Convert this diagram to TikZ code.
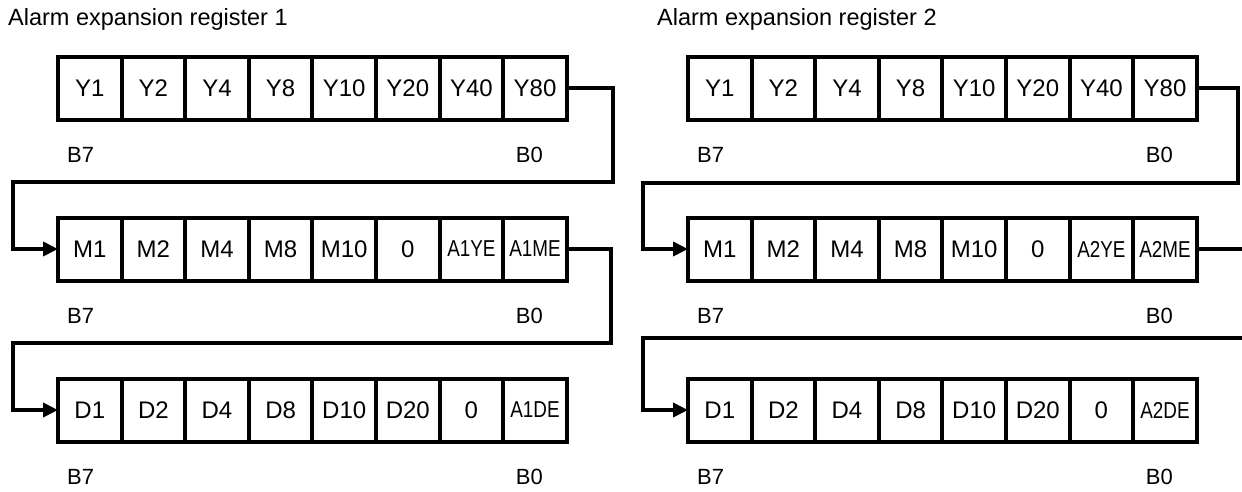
\documentclass[tikz,border=0pt]{standalone}
\usepackage{fontspec}
\setmainfont{Liberation Sans}
\newfontfamily\slimfont[FakeStretch=0.82]{Liberation Sans}
\usetikzlibrary{arrows.meta}
\usetikzlibrary{calc}

\newcommand{\slimtext}{\slimfont\fontsize{23}{23}\selectfont}

\tikzset{
  bitcell/.style={draw, line width=4pt, minimum width=63.6pt, minimum height=63pt,
    inner sep=0pt, outer sep=0pt, font=\fontsize{24}{24}\selectfont},
  bitlabel/.style={inner sep=0pt, font=\fontsize{22}{22}\selectfont},
  reglabel/.style={inner sep=0pt, anchor=base west, font=\fontsize{23.5}{24}\selectfont},
  link/.style={line width=4pt, -{Triangle[length=15pt,width=14pt]}},
}

\begin{document}
\begin{tikzpicture}[x=1pt,y=-1pt]

        \useasboundingbox (0,0) rectangle (1242,491);
        \clip (0,0) rectangle (1242,491);

        \foreach \p/\px/\tx/\ra/\rb/\sa/\sb/\lx in {1/58/8/613/182/611/343/13, 2/688/657/1238/183/1260/338/643}
        {
          % Title
          \node[reglabel] (title\p) at (\tx,25) {Alarm expansion register \p};

          % Register rows
          \foreach \lab [count=\i] in {Y1,Y2,Y4,Y8,Y10,Y20,Y40,Y80}
          {
            \node[bitcell] (Y\p-\i) at (\px+\i*63.6-31.8,88) {\lab};
          }
          \foreach \lab [count=\i] in {M1,M2,M4,M8,M10,0,{\slimtext A\p YE},{\slimtext A\p ME}}
          {
            \node[bitcell] (M\p-\i) at (\px+\i*63.6-31.8,249) {\lab};
          }
          \foreach \lab [count=\i] in {D1,D2,D4,D8,D10,D20,0,{\slimtext A\p DE}}
          {
            \node[bitcell] (D\p-\i) at (\px+\i*63.6-31.8,410) {\lab};
          }

          % Bit labels
          \foreach \by in {162,323,484}
          {
            \node[bitlabel, anchor=base west] (B7-\p-\by) at (\px+9,\by) {B7};
            \node[bitlabel, anchor=base east] (B0-\p-\by) at (\px+485,\by) {B0};
          }

          % Links
          \coordinate (R1-\p) at (\ra,\rb);
          \coordinate (L1-\p) at (\lx,\rb);
          \coordinate (R2-\p) at (\sa,\sb);
          \coordinate (L2-\p) at (\lx,\sb);
          \draw[link] (Y\p-8.east) -| (R1-\p) -- (L1-\p) |- (M\p-1.west);
          \draw[link] (M\p-8.east) -| (R2-\p) -- (L2-\p) |- (D\p-1.west);
        }
    \end{tikzpicture}
\end{document}
